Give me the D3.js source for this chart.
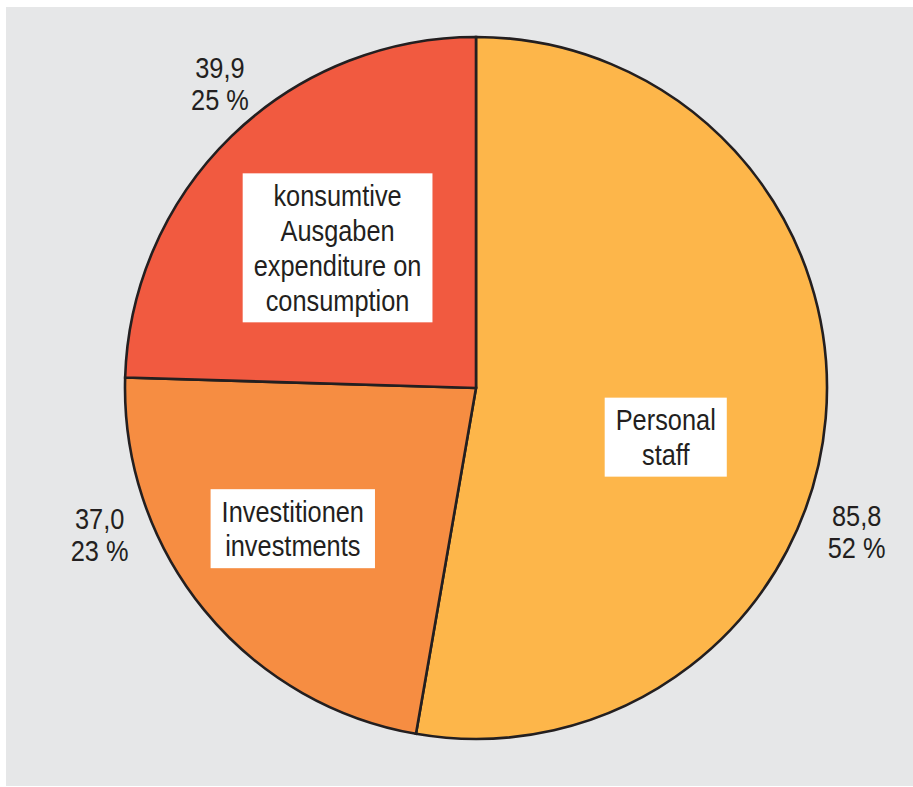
<!DOCTYPE html>
<html>
<head>
<meta charset="utf-8">
<script src="https://cdn.jsdelivr.net/npm/d3@7"></script>
<style>
  html, body { margin: 0; padding: 0; background: #fff; }
  svg text { font-family: "Liberation Sans Narrow", "Arial Narrow", "Liberation Sans", sans-serif; fill: #231f20; }
</style>
</head>
<body>
<svg id="chart" width="913" height="787"></svg>
<script>
// values in Mrd. / share of total
const categories = ['Personal', 'Investitionen', 'konsumtive'];
const values = [85.8, 37.0, 39.9];
const valueLabels = ['85,8', '37,0', '39,9'];
const percentLabels = ['52 %', '23 %', '25 %'];
const boxLabels = [
  ['Personal', 'staff'],
  ['Investitionen', 'investments'],
  ['konsumtive', 'Ausgaben', 'expenditure on', 'consumption']
];

const colors = ['#fdb64a', '#f68d42', '#f15a40'];

// label placement: angle shift (deg) from slice middle, radius
const boxPlace = [{da: 9.6, r: 196}, {da: 1.7, r: 231}, {da: -0.5, r: 197}];
const valPlace = [{da: 15.8, r: 407}, {da: 17.9, r: 404}, {da: 4.1, r: 398}];

const svg = d3.select('#chart');
const cx = 476, cy = 388, radius = 351;
const lineH = 35;
const fontSize = 29.5;
const squeeze = 0.86; // condensed look of the original face

svg.append('rect')
  .attr('x', 6).attr('y', 7)
  .attr('width', 907).attr('height', 779)
  .attr('fill', '#e6e7e8');

const g = svg.append('g').attr('transform', `translate(${cx},${cy})`);

const data = categories.map((c, i) => ({name: c, value: values[i], i}));

const pie = d3.pie().sort(null).value(d => d.value);
const arc = d3.arc().innerRadius(0).outerRadius(radius);
const arcs = pie(data);

g.selectAll('path.slice')
  .data(arcs)
  .join('path')
  .attr('class', 'slice')
  .attr('d', arc)
  .attr('fill', d => colors[d.data.i])
  .attr('stroke', '#231f20')
  .attr('stroke-width', 2.6)
  .attr('stroke-linejoin', 'miter');

function polar(a, r) {
  return [Math.sin(a) * r, -Math.cos(a) * r];
}

// white boxed labels
arcs.forEach(d => {
  const i = d.data.i;
  const mid = (d.startAngle + d.endAngle) / 2 + boxPlace[i].da * Math.PI / 180;
  const [x, y] = polar(mid, boxPlace[i].r);
  const lines = boxLabels[i];
  const lg = g.append('g').attr('transform', `translate(${x},${y})`);
  const box = lg.append('rect').attr('fill', '#fff');
  const t = lg.append('text')
    .attr('text-anchor', 'middle')
    .attr('font-size', fontSize)
    .attr('transform', `scale(${squeeze},1)`);
  lines.forEach((l, k) => {
    t.append('tspan')
      .attr('x', 0)
      .attr('y', (k - (lines.length - 1) / 2) * lineH)
      .attr('dy', '0.35em')
      .text(l);
  });
  const bb = t.node().getBBox();
  const w = bb.width * squeeze + 22;
  const h = lines.length * lineH + 9;
  box.attr('x', -w / 2).attr('y', -h / 2).attr('width', w).attr('height', h);
});

// value + percent labels outside
arcs.forEach(d => {
  const i = d.data.i;
  const mid = (d.startAngle + d.endAngle) / 2 + valPlace[i].da * Math.PI / 180;
  const [x, y] = polar(mid, valPlace[i].r);
  const t = g.append('text')
    .attr('text-anchor', 'middle')
    .attr('font-size', fontSize)
    .attr('transform', `translate(${x},${y}) scale(${squeeze},1)`);
  t.append('tspan').attr('x', 0).attr('y', -16).attr('dy', '0.35em').text(valueLabels[i]);
  t.append('tspan').attr('x', 0).attr('y', 16).attr('dy', '0.35em').text(percentLabels[i]);
});
</script>
</body>
</html>
